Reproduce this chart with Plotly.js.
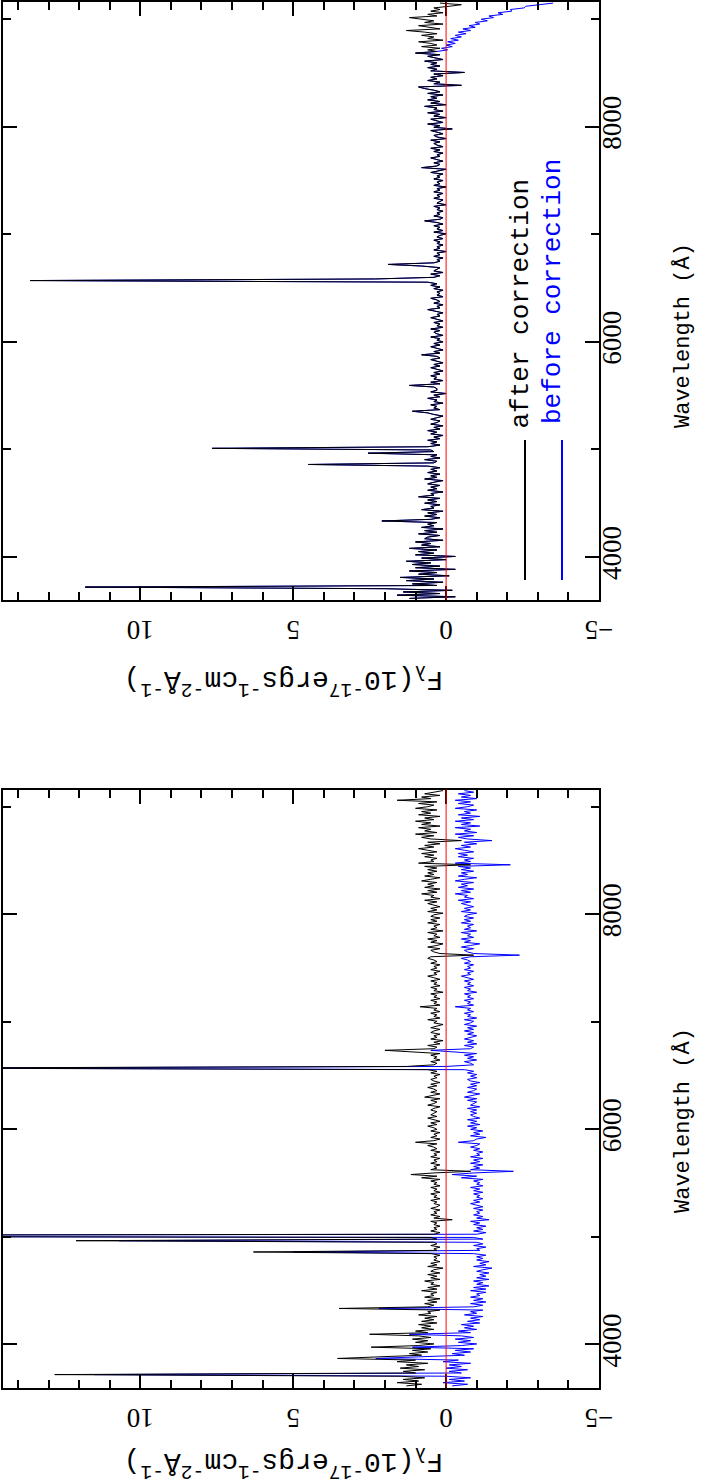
<!DOCTYPE html>
<html>
<head>
<meta charset="utf-8">
<script src="https://cdn.plot.ly/plotly-3.0.1.min.js"></script>
<style>html,body{margin:0;padding:0;background:#fff;}#chart{width:703px;height:1484px;}</style>
</head>
<body>
<div id="chart"></div>
<script>
// Wavelength sampling of the spectra (Angstrom): start and step
const WL_START = 3615;
const WL_STEP = 15;

// Upper panel: flux after correction (10^-17 erg/s/cm^2/A), one value per sample
const topAfter = [
1.2,-0.3,1.6,0.2,1.4,-0.2,2.0,11.8,0.3,1.1,
0.1,1.3,0.4,1.5,-0.1,0.9,0.3,1.2,-0.3,1.0,
0.2,1.1,0.5,1.3,0.0,0.8,-0.3,1.0,0.4,0.9,
0.3,1.2,0.2,0.8,0.5,1.0,0.1,0.7,0.6,0.2,
0.9,0.3,0.7,0.1,0.8,0.4,0.6,0.3,2.1,0.5,
0.2,0.7,0.3,0.6,0.1,0.8,0.4,0.5,0.2,0.7,
0.3,0.6,0.2,0.9,0.4,0.5,0.1,0.6,0.3,0.5,
0.2,0.6,0.4,0.1,0.7,0.3,0.5,0.2,0.6,0.3,
0.5,0.2,0.6,4.5,0.4,0.3,0.7,0.2,0.5,0.3,
2.55,0.4,0.5,7.65,0.6,0.2,0.5,0.3,0.6,0.2,
0.4,0.1,0.5,0.3,0.6,0.2,0.4,0.1,0.5,0.3,
0.2,0.5,0.3,0.1,0.4,0.6,1.1,0.2,0.4,0.3,
0.5,0.1,0.4,0.3,0.6,0.2,0.4,0.0,0.5,0.3,
0.3,0.4,1.2,0.2,0.5,0.1,0.4,0.3,0.5,0.2,
0.4,0.1,0.3,0.5,0.2,0.4,0.1,0.3,0.5,0.2,
0.3,0.8,0.2,0.4,0.1,0.3,0.5,0.2,0.4,0.1,
0.3,0.2,0.5,0.1,0.3,0.4,0.2,0.5,0.1,0.3,
0.2,0.4,0.1,0.3,0.5,0.2,0.3,0.1,0.4,0.6,
0.2,0.3,0.1,0.4,0.2,0.3,0.5,0.1,0.3,0.2,
0.3,0.1,0.4,0.2,0.5,0.3,0.6,13.6,2.3,0.4,
0.2,0.5,0.1,0.4,0.3,0.2,0.8,1.9,0.4,0.2,
0.3,0.1,0.4,0.2,0.3,0.0,0.4,0.2,0.3,0.1,
0.3,0.2,0.4,0.1,0.3,0.2,0.0,0.4,0.1,0.3,
0.2,0.4,0.1,0.3,0.7,0.2,0.1,0.4,0.2,0.3,
0.1,0.3,0.2,0.4,0.0,0.3,0.2,0.1,0.4,0.2,
0.3,0.1,0.4,0.2,0.3,0.0,0.4,0.2,0.3,0.1,
0.4,0.2,0.3,0.1,0.5,0.2,0.0,0.8,0.3,0.2,
0.4,0.1,0.3,0.5,0.2,0.3,0.1,0.4,0.2,0.5,
0.1,0.3,0.4,0.2,0.5,0.0,0.3,0.4,0.1,0.3,
0.5,-0.2,0.4,0.2,0.6,0.1,0.3,0.5,0.0,0.4,
0.2,0.6,0.1,0.4,0.3,0.7,0.0,0.5,0.2,0.6,
0.3,0.5,0.1,0.6,0.2,0.4,0.7,0.9,-0.5,0.4,
0.2,0.6,0.3,0.5,0.1,0.4,-0.6,0.5,0.3,0.6,
0.2,0.5,0.3,0.7,0.1,0.4,0.6,0.2,1.0,0.3,
0.6,0.2,0.8,0.3,0.5,0.9,0.1,0.6,0.4,0.8,
0.3,0.7,1.3,0.2,0.6,0.9,0.1,0.7,0.4,0.8,
1.2,0.3,0.6,0.1,0.5,0.2,0.4,-0.1,-0.5,0.2
];
// Upper panel: before correction equals the corrected flux up to 8700 A; red end below
const TOP_SPLIT = 340;
const topBeforeRedEnd = [
-0.05,0.15,-0.2,0.0,-0.3,-0.05,-0.4,-0.15,-0.5,-0.3,
-0.65,-0.4,-0.8,-0.55,-0.95,-0.75,-1.1,-0.95,-1.35,-1.15,
-1.55,-1.4,-1.85,-1.7,-2.15,-2.1,-2.55,-2.6,-3.05,-3.5
];

// Lower panel: flux after correction
const botAfter = [
1.3,0.8,1.6,0.9,1.4,0.7,1.5,12.8,1.0,1.4,
0.7,1.5,0.9,1.3,0.6,1.6,1.0,3.55,2.2,0.8,
1.2,0.6,1.1,0.5,2.45,0.9,0.4,1.0,0.6,1.1,
0.5,0.9,2.5,0.6,1.0,0.4,0.8,0.5,0.9,0.3,
0.8,0.4,0.7,0.3,0.9,0.5,0.6,0.2,3.5,0.6,
0.4,0.7,0.3,0.6,0.2,0.7,0.4,0.5,0.3,0.8,
0.3,0.6,0.2,0.5,0.4,0.7,0.2,0.5,0.3,0.6,
0.2,0.5,0.4,0.1,0.6,0.3,0.5,0.2,0.4,0.3,
0.4,0.2,0.5,6.3,0.3,0.4,0.2,0.5,0.3,0.4,
12.1,0.3,0.5,36,0.4,0.2,0.5,0.3,0.4,0.2,
0.4,0.3,0.5,-0.2,0.4,0.2,0.5,0.3,0.4,0.2,
0.5,0.3,0.2,0.4,0.3,0.5,0.2,0.4,0.3,0.5,
0.2,0.4,0.3,0.5,0.2,0.4,0.3,0.5,0.2,0.8,
0.3,1.15,0.4,-0.8,0.5,0.3,0.4,0.2,0.5,0.3,
0.4,0.2,0.5,0.3,0.4,0.2,0.5,0.3,0.4,0.6,
0.3,1.0,0.4,0.2,0.5,0.3,0.4,0.2,0.5,0.3,
0.4,0.6,0.3,0.5,0.2,0.4,0.6,0.3,0.5,0.4,
0.3,0.5,0.4,0.2,0.6,0.4,0.3,0.5,0.2,0.7,
0.4,0.2,0.5,0.3,0.4,0.6,0.3,0.5,0.2,0.4,
0.5,0.3,0.4,0.2,0.5,0.3,0.6,18,1.3,0.4,
0.3,0.5,0.2,0.4,0.3,0.5,0.2,1.2,2.0,0.4,
0.3,0.6,0.2,0.4,0.1,0.5,0.3,0.4,0.2,0.5,
0.4,0.2,0.5,0.3,0.1,0.4,0.3,0.6,0.2,0.4,
0.3,0.5,0.2,0.4,0.3,0.85,0.2,0.4,0.3,0.5,
0.2,0.4,0.3,0.5,0.1,0.4,0.3,0.5,0.2,0.4,
0.3,0.5,0.2,0.4,0.6,0.3,0.4,0.2,0.5,0.3,
0.4,0.2,0.5,0.3,0.4,0.6,0.5,-0.9,0.2,0.4,
0.5,0.2,0.6,0.3,0.1,0.5,0.3,0.6,0.2,0.4,
0.3,0.6,0.1,0.5,0.3,0.4,0.2,0.6,0.3,0.5,
0.2,0.5,0.4,0.1,0.6,0.3,0.5,0.2,0.4,0.6,
0.3,0.7,0.2,0.5,0.4,0.8,0.3,0.6,0.2,0.7,
0.4,0.6,0.3,0.8,0.5,0.2,0.7,0.4,0.6,0.3,
0.6,0.3,0.7,-0.8,0.9,0.4,0.5,0.3,0.7,0.4,
0.8,0.3,0.6,0.9,0.4,0.7,0.2,0.6,-0.5,0.5,
0.8,0.4,1.0,0.3,0.7,0.5,0.9,0.2,0.8,0.5,
1.0,0.4,0.7,0.2,0.9,0.5,0.8,0.3,1.0,0.6,
0.4,0.9,0.3,1.6,0.5,0.8,0.2,0.7,0.4,0.1
];
// Lower panel: flux before correction
const botBefore = [
-0.2,-0.7,0.1,-0.6,-0.1,-0.8,0.0,11.5,-0.5,-0.1,
-0.7,0.0,-0.5,-0.1,-0.8,0.1,-0.4,2.3,0.9,-0.6,
-0.2,-0.8,-0.3,-0.9,1.1,-0.5,-1.0,-0.4,-0.8,-0.3,
-0.9,-0.5,1.2,-0.8,-0.4,-1.0,-0.6,-0.9,-0.5,-1.1,
-0.7,-1.1,-0.8,-1.2,-0.6,-1.0,-0.8,-1.2,2.2,-0.9,
-1.2,-0.8,-1.3,-0.9,-1.2,-0.8,-1.1,-1.0,-1.3,-0.8,
-1.3,-0.9,-1.4,-1.0,-1.2,-0.9,-1.4,-1.0,-1.3,-1.1,
-1.4,-1.0,-1.2,-1.5,-0.9,-1.3,-1.1,-1.4,-1.0,-1.2,
-1.0,-1.3,-0.9,5.0,-1.1,-1.0,-1.3,-0.9,-1.2,-1.0,
10.7,-1.2,-0.9,34,-1.0,-1.3,-0.9,-1.2,-1.0,-1.3,
-0.9,-1.1,-0.8,-1.4,-1.0,-1.2,-0.9,-1.1,-1.0,-1.2,
-0.9,-1.2,-1.0,-0.8,-1.1,-0.9,-1.2,-1.0,-1.1,-0.9,
-1.2,-0.9,-1.1,-0.8,-1.2,-1.0,-1.1,-0.9,-1.2,-0.5,
-1.0,-0.2,-0.9,-2.2,-0.8,-1.1,-0.9,-1.2,-0.8,-1.1,
-0.9,-1.2,-0.8,-1.1,-1.0,-1.2,-0.9,-1.1,-0.8,-1.0,
-1.1,-0.4,-0.9,-1.0,-1.3,-0.8,-1.1,-0.9,-1.2,-0.8,
-1.0,-0.7,-1.1,-0.8,-1.0,-0.7,-1.1,-0.9,-0.8,-1.0,
-0.8,-1.0,-0.7,-1.1,-0.8,-0.9,-1.0,-0.7,-1.0,-0.6,
-0.9,-1.1,-0.7,-0.9,-1.0,-0.7,-1.0,-0.8,-1.1,-0.8,
-0.7,-1.0,-0.8,-1.0,-0.7,-0.9,-0.6,17,0.0,-0.9,
-0.8,-0.6,-1.0,-0.7,-0.9,-0.6,-1.0,-0.1,0.5,-0.8,
-0.9,-0.6,-1.0,-0.7,-0.9,-0.6,-0.8,-1.0,-0.7,-0.9,
-0.6,-0.9,-0.7,-1.0,-0.6,-0.8,-0.9,-0.6,-1.0,-0.7,
-0.8,-0.6,-0.9,-0.7,-0.8,-0.3,-0.9,-0.7,-0.8,-0.6,
-0.9,-0.7,-0.8,-0.6,-1.0,-0.7,-0.8,-0.6,-0.9,-0.7,
-0.8,-0.6,-0.9,-0.7,-0.5,-0.8,-0.7,-0.9,-0.6,-0.8,
-0.7,-0.9,-0.6,-0.8,-0.7,-0.5,-0.8,-2.4,-0.9,-0.7,
-0.6,-0.9,-0.5,-0.8,-1.1,-0.6,-0.8,-0.5,-0.9,-0.7,
-0.8,-0.5,-1.0,-0.6,-0.8,-0.7,-0.9,-0.5,-0.8,-0.6,
-0.9,-0.6,-0.7,-1.0,-0.5,-0.8,-0.6,-0.9,-0.7,-0.5,
-0.8,-0.4,-0.9,-0.6,-0.7,-0.3,-0.8,-0.5,-0.9,-0.4,
-0.7,-0.5,-0.9,-0.3,-0.6,-1.0,-0.4,-0.7,-0.5,-0.9,
-0.5,-0.8,-0.4,-2.1,-0.3,-0.8,-0.6,-0.9,-0.4,-0.7,
-0.4,-0.9,-0.6,-0.3,-0.8,-0.5,-1.0,-0.6,-1.5,-0.7,
-0.4,-0.9,-0.3,-1.0,-0.6,-0.8,-0.3,-1.1,-0.5,-0.8,
-0.3,-0.9,-0.5,-1.1,-0.4,-0.8,-0.6,-1.0,-0.3,-0.7,
-0.9,-0.4,-0.8,-0.3,-1.0,-0.5,-0.8,-0.4,-0.9,-0.6
];

// Axis settings (values)
const FLUX_RANGE = [14.5, -5.0001];
const WL_RANGE = [3600, 9160];
const FLUX_TICK_STEP = 5, FLUX_MINOR_STEP = 1;
const WL_TICK_STEP = 2000, WL_MINOR_STEP = 1000;

const FLUX_TITLE = 'F<sub>λ</sub>(10<sup>-17</sup>ergs<sup>-1</sup>cm<sup>-2</sup>Å<sup>-1</sup>)';
const WL_TITLE = 'Wavelength (Å)';
const LEGEND_LABELS = ['after correction', 'before correction'];

// ---- build ----
const wavelength = topAfter.map((_, i) => WL_START + i * WL_STEP);
const topBefore = topAfter.slice(0, TOP_SPLIT).concat(topBeforeRedEnd);

const BLUE = '#0000ff', BLACK = '#000000';
function tr(x, xa, ya, color) {
  return {x: x, y: wavelength, xaxis: xa, yaxis: ya, type: 'scatter', mode: 'lines',
          line: {color: color, width: 1}, hoverinfo: 'skip'};
}
const data = [
  tr(topBefore, 'x', 'y', BLUE), tr(topAfter, 'x', 'y', BLACK),
  tr(botBefore, 'x2', 'y2', BLUE), tr(botAfter, 'x2', 'y2', BLACK)
];

const W = 703, H = 1484;
const tickFont = {family: 'Liberation Serif', size: 27, color: '#000'};
const MONO = 'Liberation Mono';

function fluxAxis(domain, anchor) {
  return {domain: domain, anchor: anchor, range: FLUX_RANGE, autorange: false,
    tick0: 0, dtick: FLUX_TICK_STEP, ticks: 'inside', ticklen: 14, tickwidth: 2, tickcolor: '#000',
    minor: {dtick: FLUX_MINOR_STEP, tick0: 0, ticks: 'inside', ticklen: 8, tickwidth: 2, tickcolor: '#000'},
    showline: true, linewidth: 2, linecolor: '#000', mirror: 'allticks',
    showgrid: false, zeroline: false, tickangle: 180, tickfont: tickFont, ticklabelstandoff: 14,
    fixedrange: true};
}
function wlAxis(domain, anchor) {
  return {domain: domain, anchor: anchor, range: WL_RANGE, autorange: false, side: 'right',
    tick0: 0, dtick: WL_TICK_STEP, ticks: 'inside', ticklen: 14, tickwidth: 2, tickcolor: '#000',
    minor: {dtick: WL_MINOR_STEP, tick0: 0, ticks: 'inside', ticklen: 8, tickwidth: 2, tickcolor: '#000'},
    showline: true, linewidth: 2, linecolor: '#000', mirror: 'allticks',
    showgrid: false, zeroline: false, tickangle: -90, tickfont: tickFont, ticklabelstandoff: -12,
    fixedrange: true};
}
const xDom = [2.7 / W, 599 / W];
const topDom = [1 - 600 / H, 1 - 2 / H];
const botDom = [1 - 1387.5 / H, 1 - 789.5 / H];

function px(xp) { return xp / W; }
function py(yp) { return 1 - yp / H; }

const annotations = [];
[[680, 336], [1462, 1121]].forEach(function (p) {
  annotations.push({xref: 'paper', yref: 'paper', x: px(284), y: py(p[0]), text: FLUX_TITLE,
    textangle: 180, showarrow: false, xanchor: 'center', yanchor: 'middle',
    font: {family: MONO, size: 28, color: '#000'}});
  annotations.push({xref: 'paper', yref: 'paper', x: px(683), y: py(p[1]), text: WL_TITLE,
    textangle: -90, showarrow: false, xanchor: 'center', yanchor: 'middle',
    font: {family: MONO, size: 22, color: '#000'}});
});
annotations.push({xref: 'paper', yref: 'paper', x: px(520), y: py(303.5), text: LEGEND_LABELS[0],
  textangle: -90, showarrow: false, xanchor: 'center', yanchor: 'middle',
  font: {family: MONO, size: 26, color: BLACK}});
annotations.push({xref: 'paper', yref: 'paper', x: px(553), y: py(292), text: LEGEND_LABELS[1],
  textangle: -90, showarrow: false, xanchor: 'center', yanchor: 'middle',
  font: {family: MONO, size: 26, color: BLUE}});

const shapes = [
  {type: 'line', xref: 'x', yref: 'y domain', x0: 0, x1: 0, y0: 0, y1: 1, line: {color: '#ff0000', width: 1}},
  {type: 'line', xref: 'x2', yref: 'y2 domain', x0: 0, x1: 0, y0: 0, y1: 1, line: {color: '#ff0000', width: 1}},
  {type: 'line', xref: 'paper', yref: 'paper', x0: px(525), x1: px(525), y0: py(440), y1: py(580), line: {color: BLACK, width: 2}},
  {type: 'line', xref: 'paper', yref: 'paper', x0: px(562), x1: px(562), y0: py(440), y1: py(580), line: {color: BLUE, width: 2}}
];

const layout = {
  width: W, height: H, margin: {l: 0, r: 0, t: 0, b: 0, pad: 0},
  paper_bgcolor: '#fff', plot_bgcolor: '#fff', showlegend: false,
  xaxis: fluxAxis(xDom, 'y'), yaxis: wlAxis(topDom, 'x'),
  xaxis2: fluxAxis(xDom, 'y2'), yaxis2: wlAxis(botDom, 'x2'),
  annotations: annotations, shapes: shapes
};
Plotly.newPlot('chart', data, layout, {staticPlot: true, displayModeBar: false});
</script>
</body>
</html>
